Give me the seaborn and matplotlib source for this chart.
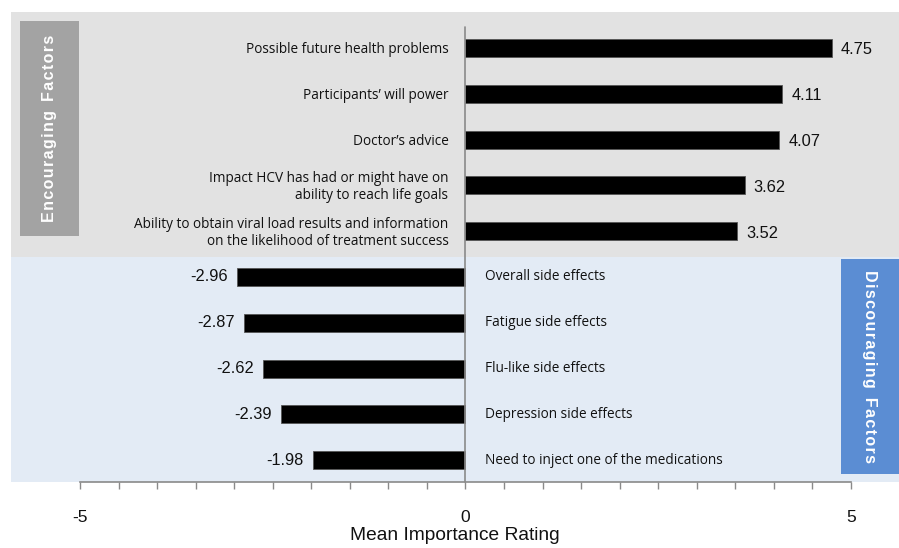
import matplotlib
matplotlib.use("Agg")
import matplotlib.pyplot as plt
import seaborn as sns
import pandas as pd
from matplotlib.patches import Rectangle

categories = [
    "Possible future health problems",
    "Participants\u2019 will power",
    "Doctor\u2019s advice",
    "Impact HCV has had or might have on\nability to reach life goals",
    "Ability to obtain viral load results and information\non the likelihood of treatment success",
    "Overall side effects",
    "Fatigue side effects",
    "Flu-like side effects",
    "Depression side effects",
    "Need to inject one of the medications",
]
values = [4.75, 4.11, 4.07, 3.62, 3.52, -2.96, -2.87, -2.62, -2.39, -1.98]
value_labels = ["4.75", "4.11", "4.07", "3.62", "3.52", "-2.96", "-2.87", "-2.62", "-2.39", "-1.98"]
tick_values = [-5, 0, 5]
tick_labels = ["-5", "0", "5"]
group_labels = ["Encouraging Factors", "Discouraging Factors"]
x_label = "Mean Importance Rating"

df = pd.DataFrame({"category": categories, "value": values})

sns.set_theme(style="white")
plt.rcParams['font.family'] = ['Liberation Sans', 'DejaVu Sans']

W, H = 899, 548
fig = plt.figure(figsize=(W / 100, H / 100), dpi=100)
ax_left, ax_right, ax_top, ax_bot = 11, 899, 12, 482
ax = fig.add_axes([ax_left / W, 1 - ax_bot / H, (ax_right - ax_left) / W, (ax_bot - ax_top) / H])

px_per_unit = (851 - 80) / 10.0
x0 = 465.5
xmin = (ax_left - x0) / px_per_unit
xmax = (ax_right - x0) / px_per_unit
row = 45.8
y0 = 48
ymin_top = (ax_top - y0) / row
ymax_bot = (ax_bot - y0) / row
split = (257 - y0) / row

ax.set_facecolor("none")
ax.axhspan(ymin_top, split, color="#e2e2e2", zorder=0, lw=0)
ax.axhspan(split, ymax_bot, color="#e3ebf5", zorder=0, lw=0)

sns.barplot(data=df, x="value", y="category", orient="h", color="black",
            width=0.39, edgecolor="#555555", linewidth=0.6, ax=ax, zorder=3,
            saturation=1)

ax.set_xlim(xmin, xmax)
ax.set_ylim(ymax_bot, ymin_top)

ax.plot([0, 0], [(27 - y0) / row, ymax_bot], color="#8a8a8a", lw=1.2, zorder=4, clip_on=False)

cat_font = ["Open Sans", "DejaVu Sans"]
for i, (c, v) in enumerate(zip(categories, values)):
    if v >= 0:
        ax.text(-17 / px_per_unit, i + 0.04, c, ha="right", va="center", fontsize=9.8,
                family=cat_font, color="#111111", linespacing=1.2, zorder=5)
        ax.text(v + 9 / px_per_unit, i + 0.04, value_labels[i], ha="left", va="center",
                fontsize=11.8, color="#111111", zorder=5)
    else:
        ax.text(20 / px_per_unit, i, c, ha="left", va="center", fontsize=9.8,
                family=cat_font, color="#111111", zorder=5)
        ax.text(v - 9 / px_per_unit, i, value_labels[i], ha="right", va="center",
                fontsize=11.8, color="#111111", zorder=5)

def px2x(p):
    return (p - x0) / px_per_unit

def px2y(p):
    return (p - y0) / row

def spaced(s):
    return "\u200a".join(s).replace("\u200a \u200a", "  ")

lx0, lx1, ly0, ly1 = px2x(20), px2x(79), px2y(21), px2y(236)
ax.add_patch(Rectangle((lx0, ly0), lx1 - lx0, ly1 - ly0, color="#a3a3a3", zorder=2, lw=0))
ax.text((lx0 + lx1) / 2, (ly0 + ly1) / 2, spaced(group_labels[0]),
        rotation=90, ha="center", va="center", color="white", fontsize=11.5,
        fontweight="bold", zorder=5)

rx0, rx1, ry0, ry1 = px2x(841), px2x(899), px2y(259), px2y(474)
ax.add_patch(Rectangle((rx0, ry0), rx1 - rx0, ry1 - ry0, color="#5b8dd3", zorder=2, lw=0))
ax.text((rx0 + rx1) / 2, (ry0 + ry1) / 2, spaced(group_labels[1]),
        rotation=-90, ha="center", va="center", color="white", fontsize=11.5,
        fontweight="bold", zorder=5)

for s in ["top", "left", "right"]:
    ax.spines[s].set_visible(False)
ax.spines["bottom"].set_visible(True)
ax.spines["bottom"].set_color("#8a8a8a")
ax.spines["bottom"].set_linewidth(1.2)
ax.spines["bottom"].set_bounds(-5, 5)
ax.set_yticks([])
ax.set_ylabel("")
ax.set_xticks(tick_values)
ax.set_xticklabels(tick_labels, fontsize=12.5)
ax.set_xticks([x / 2 for x in range(-10, 11)], minor=True)
ax.tick_params(axis="x", which="both", direction="out", length=5, width=1, color="#8a8a8a",
               bottom=True)
ax.tick_params(axis="x", which="major", pad=15.5, labelcolor="#111111")
ax.set_xlabel(x_label, fontsize=13.8, color="#111111", labelpad=1)
ax.grid(False)

fig.savefig("out.png", dpi=100, facecolor="white")
